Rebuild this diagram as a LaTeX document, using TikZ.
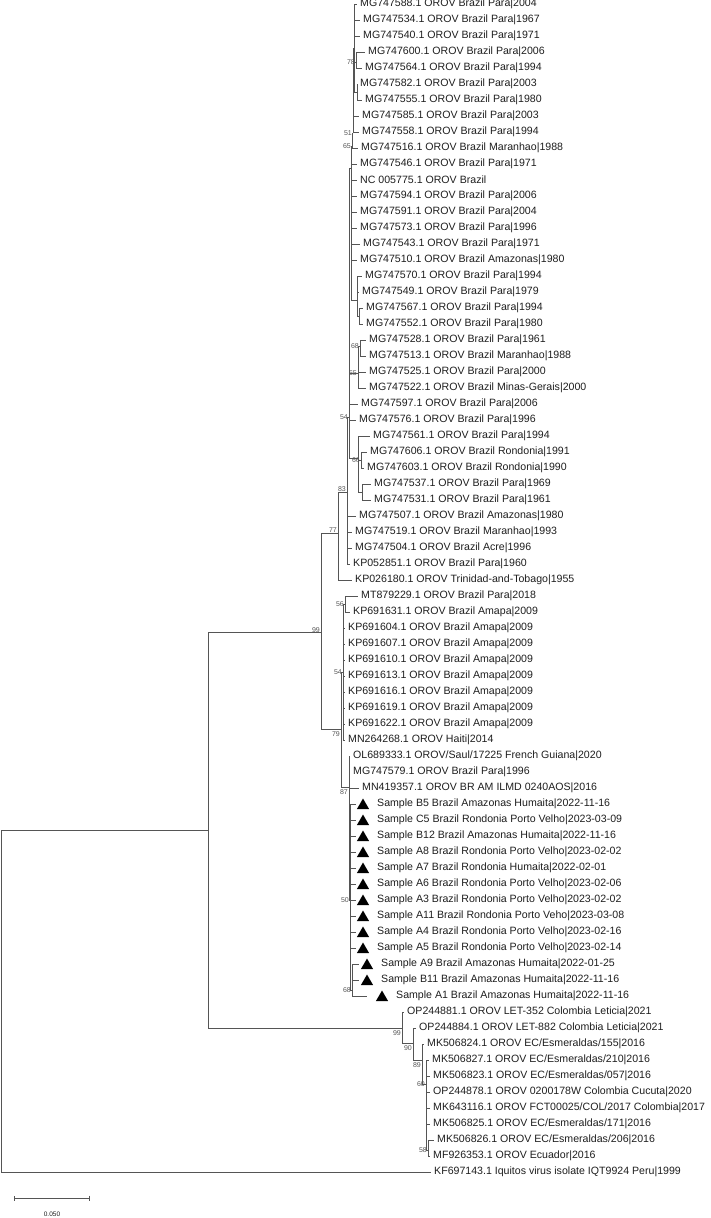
\documentclass[tikz,border=0pt]{standalone}
\usepackage{fontspec}
\setmainfont{Liberation Sans}
\usetikzlibrary{positioning,shapes.geometric,arrows.meta}
\definecolor{BranchGray}{RGB}{85,85,85}
\definecolor{TaxonInk}{RGB}{30,30,30}
\tikzset{
	br/.style={draw=BranchGray,line width=0.8pt},
	leaf/.style={anchor=west,inner xsep=3pt,inner ysep=0pt,text=TaxonInk,
		font=\fontsize{10.6}{11}\selectfont},
	bs/.style={anchor=east,inner sep=1pt,text=BranchGray,font=\fontsize{7}{7}\selectfont},
	bsl/.style={bs,yshift=-5pt},
	tri/.style={regular polygon,regular polygon sides=3,fill=black,inner sep=0pt,minimum size=14pt,yshift=-1.5pt},
}

\begin{document}
\begin{tikzpicture}[x=1pt,y=-1pt]
	\useasboundingbox (0,0) rectangle (710,1218);
	% internal nodes
	\coordinate (root) at (1,1001);
	\coordinate (nO) at (208,830);
	\coordinate (n99a) at (321,632);
	\coordinate (n77) at (338,533);
	\coordinate (n83) at (347,492);
	\coordinate (n54a) at (349,417);
	\coordinate (nA) at (351,168);
	\coordinate (n65a) at (352,146);
	\coordinate (n51) at (353,133);
	\coordinate (nT) at (354,48);
	\coordinate (n78) at (356,62);
	\coordinate (nP) at (357,92);
	\coordinate (nB) at (357,300);
	\coordinate (nC) at (359,316);
	\coordinate (n65b) at (358,373);
	\coordinate (n68a) at (360,346);
	\coordinate (nR) at (358,458);
	\coordinate (n66) at (361,460);
	\coordinate (nS) at (362,492);
	\coordinate (n79) at (341,729);
	\coordinate (n54b) at (343,672);
	\coordinate (n56) at (345,604);
	\coordinate (n87) at (349,787);
	\coordinate (n50) at (350,900);
	\coordinate (n68b) at (352,990);
	\coordinate (n99b) at (402,1028);
	\coordinate (n90) at (413,1043);
	\coordinate (n89) at (422,1060);
	\coordinate (n60) at (426,1084);
	\coordinate (n58) at (428,1150);

	% taxa
	\node[leaf] (l0) at (357,4) {MG747588.1 OROV Brazil Para|2004};
	\node[leaf] (l1) at (360,20) {MG747534.1 OROV Brazil Para|1967};
	\node[leaf] (l2) at (360,36) {MG747540.1 OROV Brazil Para|1971};
	\node[leaf] (l3) at (365,52) {MG747600.1 OROV Brazil Para|2006};
	\node[leaf] (l4) at (362,68) {MG747564.1 OROV Brazil Para|1994};
	\node[leaf] (l5) at (357,84) {MG747582.1 OROV Brazil Para|2003};
	\node[leaf] (l6) at (362,100) {MG747555.1 OROV Brazil Para|1980};
	\node[leaf] (l7) at (359,116) {MG747585.1 OROV Brazil Para|2003};
	\node[leaf] (l8) at (359,132) {MG747558.1 OROV Brazil Para|1994};
	\node[leaf] (l9) at (358,148) {MG747516.1 OROV Brazil Maranhao|1988};
	\node[leaf] (l10) at (357,164) {MG747546.1 OROV Brazil Para|1971};
	\node[leaf] (l11) at (357,180) {NC 005775.1 OROV Brazil};
	\node[leaf] (l12) at (357,196) {MG747594.1 OROV Brazil Para|2006};
	\node[leaf] (l13) at (357,212) {MG747591.1 OROV Brazil Para|2004};
	\node[leaf] (l14) at (357,228) {MG747573.1 OROV Brazil Para|1996};
	\node[leaf] (l15) at (360,244) {MG747543.1 OROV Brazil Para|1971};
	\node[leaf] (l16) at (357,260) {MG747510.1 OROV Brazil Amazonas|1980};
	\node[leaf] (l17) at (362,276) {MG747570.1 OROV Brazil Para|1994};
	\node[leaf] (l18) at (359,292) {MG747549.1 OROV Brazil Para|1979};
	\node[leaf] (l19) at (363,308) {MG747567.1 OROV Brazil Para|1994};
	\node[leaf] (l20) at (363,324) {MG747552.1 OROV Brazil Para|1980};
	\node[leaf] (l21) at (366,340) {MG747528.1 OROV Brazil Para|1961};
	\node[leaf] (l22) at (366,356) {MG747513.1 OROV Brazil Maranhao|1988};
	\node[leaf] (l23) at (366,372) {MG747525.1 OROV Brazil Para|2000};
	\node[leaf] (l24) at (366,388) {MG747522.1 OROV Brazil Minas-Gerais|2000};
	\node[leaf] (l25) at (358,404) {MG747597.1 OROV Brazil Para|2006};
	\node[leaf] (l26) at (356,420) {MG747576.1 OROV Brazil Para|1996};
	\node[leaf] (l27) at (370,436) {MG747561.1 OROV Brazil Para|1994};
	\node[leaf] (l28) at (367,452) {MG747606.1 OROV Brazil Rondonia|1991};
	\node[leaf] (l29) at (364,468) {MG747603.1 OROV Brazil Rondonia|1990};
	\node[leaf] (l30) at (371,484) {MG747537.1 OROV Brazil Para|1969};
	\node[leaf] (l31) at (371,500) {MG747531.1 OROV Brazil Para|1961};
	\node[leaf] (l32) at (356,516) {MG747507.1 OROV Brazil Amazonas|1980};
	\node[leaf] (l33) at (352,532) {MG747519.1 OROV Brazil Maranhao|1993};
	\node[leaf] (l34) at (352,548) {MG747504.1 OROV Brazil Acre|1996};
	\node[leaf] (l35) at (350,564) {KP052851.1 OROV Brazil Para|1960};
	\node[leaf] (l36) at (352,580) {KP026180.1 OROV Trinidad-and-Tobago|1955};
	\node[leaf] (l37) at (358,596) {MT879229.1 OROV Brazil Para|2018};
	\node[leaf] (l38) at (350,612) {KP691631.1 OROV Brazil Amapa|2009};
	\node[leaf] (l39) at (345,628) {KP691604.1 OROV Brazil Amapa|2009};
	\node[leaf] (l40) at (345,644) {KP691607.1 OROV Brazil Amapa|2009};
	\node[leaf] (l41) at (345,660) {KP691610.1 OROV Brazil Amapa|2009};
	\node[leaf] (l42) at (345,676) {KP691613.1 OROV Brazil Amapa|2009};
	\node[leaf] (l43) at (345,692) {KP691616.1 OROV Brazil Amapa|2009};
	\node[leaf] (l44) at (345,708) {KP691619.1 OROV Brazil Amapa|2009};
	\node[leaf] (l45) at (345,724) {KP691622.1 OROV Brazil Amapa|2009};
	\node[leaf] (l46) at (345,740) {MN264268.1 OROV Haiti|2014};
	\node[leaf] (l47) at (350,756) {OL689333.1 OROV/Saul/17225 French Guiana|2020};
	\node[leaf] (l48) at (350,772) {MG747579.1 OROV Brazil Para|1996};
	\node[leaf] (l49) at (359,788) {MN419357.1 OROV BR AM ILMD 0240AOS|2016};

	% sequenced samples
	\foreach \i/\tip/\mk/\txt in {
		50/356/363/{Sample B5 Brazil Amazonas Humaita|2022-11-16},
		51/356/363/{Sample C5 Brazil Rondonia Porto Velho|2023-03-09},
		52/356/363/{Sample B12 Brazil Amazonas Humaita|2022-11-16},
		53/356/363/{Sample A8 Brazil Rondonia Porto Velho|2023-02-02},
		54/356/363/{Sample A7 Brazil Rondonia Humaita|2022-02-01},
		55/356/363/{Sample A6 Brazil Rondonia Porto Velho|2023-02-06},
		56/356/363/{Sample A3 Brazil Rondonia Porto Velho|2023-02-02},
		57/356/363/{Sample A11 Brazil Rondonia Porto Veho|2023-03-08},
		58/356/363/{Sample A4 Brazil Rondonia Porto Velho|2023-02-16},
		59/356/363/{Sample A5 Brazil Rondonia Porto Velho|2023-02-14},
		60/359/367/{Sample A9 Brazil Amazonas Humaita|2022-01-25},
		61/359/367/{Sample B11 Brazil Amazonas Humaita|2022-11-16},
		62/367/382/{Sample A1 Brazil Amazonas Humaita|2022-11-16}} {
		\coordinate (l\i) at (\tip,{4+16*\i});
		\node[tri] (s\i) at (\mk,{4+16*\i}) {};
		\node[leaf] (t\i) at ({\mk+11},{4+16*\i}) {\txt};
	}

	\node[leaf] (l63) at (404,1012) {OP244881.1 OROV LET-352 Colombia Leticia|2021};
	\node[leaf] (l64) at (416,1028) {OP244884.1 OROV LET-882 Colombia Leticia|2021};
	\node[leaf] (l65) at (424,1044) {MK506824.1 OROV EC/Esmeraldas/155|2016};
	\node[leaf] (l66) at (429,1060) {MK506827.1 OROV EC/Esmeraldas/210|2016};
	\node[leaf] (l67) at (430,1076) {MK506823.1 OROV EC/Esmeraldas/057|2016};
	\node[leaf] (l68) at (430,1092) {OP244878.1 OROV 0200178W Colombia Cucuta|2020};
	\node[leaf] (l69) at (430,1108) {MK643116.1 OROV FCT00025/COL/2017 Colombia|2017};
	\node[leaf] (l70) at (430,1124) {MK506825.1 OROV EC/Esmeraldas/171|2016};
	\node[leaf] (l71) at (434,1140) {MK506826.1 OROV EC/Esmeraldas/206|2016};
	\node[leaf] (l72) at (430,1156) {MF926353.1 OROV Ecuador|2016};
	\node[leaf] (l73) at (431,1172) {KF697143.1 Iquitos virus isolate IQT9924 Peru|1999};

	% branches
	\foreach \c in {nO,l73} \draw[br] (root) |- (\c);
	\foreach \c in {n99a,n99b} \draw[br] (nO) |- (\c);
	\foreach \c in {n77,n79} \draw[br] (n99a) |- (\c);
	\foreach \c in {n83,l36} \draw[br] (n77) |- (\c);
	\foreach \c in {n54a,l32,l33,l34,l35} \draw[br] (n83) |- (\c);
	\foreach \c in {nA,n65b,l25,l26,nR} \draw[br] (n54a) |- (\c);
	\foreach \c in {n65a,l10,l11,l12,l13,l14,l15,l16,nB} \draw[br] (nA) |- (\c);
	\foreach \c in {n51,l9} \draw[br] (n65a) |- (\c);
	\foreach \c in {nT,l7,l8} \draw[br] (n51) |- (\c);
	\foreach \c in {l0,l1,l2,n78,nP} \draw[br] (nT) |- (\c);
	\foreach \c in {l3,l4} \draw[br] (n78) |- (\c);
	\foreach \c in {l5,l6} \draw[br] (nP) |- (\c);
	\foreach \c in {l17,l18,nC} \draw[br] (nB) |- (\c);
	\foreach \c in {l19,l20} \draw[br] (nC) |- (\c);
	\foreach \c in {n68a,l23,l24} \draw[br] (n65b) |- (\c);
	\foreach \c in {l21,l22} \draw[br] (n68a) |- (\c);
	\foreach \c in {l27,n66,nS} \draw[br] (nR) |- (\c);
	\foreach \c in {l28,l29} \draw[br] (n66) |- (\c);
	\foreach \c in {l30,l31} \draw[br] (nS) |- (\c);
	\foreach \c in {n54b,n87} \draw[br] (n79) |- (\c);
	\foreach \c in {n56,l39,l40,l41,l42,l43,l44,l45,l46} \draw[br] (n54b) |- (\c);
	\foreach \c in {l37,l38} \draw[br] (n56) |- (\c);
	\foreach \c in {l47,l48,l49,n50} \draw[br] (n87) |- (\c);
	\foreach \c in {l50,l51,l52,l53,l54,l55,l56,l57,l58,l59,n68b} \draw[br] (n50) |- (\c);
	\foreach \c in {l60,l61,l62} \draw[br] (n68b) |- (\c);
	\foreach \c in {l63,n90} \draw[br] (n99b) |- (\c);
	\foreach \c in {l64,n89} \draw[br] (n90) |- (\c);
	\foreach \c in {l65,n60} \draw[br] (n89) |- (\c);
	\foreach \c in {l66,l67,l68,l69,l70,n58} \draw[br] (n60) |- (\c);
	\foreach \c in {l71,l72} \draw[br] (n58) |- (\c);

	% bootstrap values
	\node[bs] (b78) at (n78) {78};
	\node[bs] (b51) at (n51) {51};
	\node[bs] (b65a) at (n65a) {65};
	\node[bs] (b68a) at (n68a) {68};
	\node[bs] (b65b) at (n65b) {65};
	\node[bs] (b54a) at (n54a) {54};
	\node[bs] (b66) at (n66) {66};
	\node[bs,yshift=3pt] (b83) at (n83) {83};
	\node[bs,yshift=3pt] (b77) at (n77) {77};
	\node[bs,yshift=2pt] (b99a) at (n99a) {99};
	\node[bs] (b56) at (n56) {56};
	\node[bs] (b54b) at (n54b) {54};
	\node[bsl] (b79) at (n79) {79};
	\node[bsl] (b87) at (n87) {87};
	\node[bs] (b50) at (n50) {50};
	\node[bs] (b68b) at (n68b) {68};
	\node[bsl] (b99b) at (n99b) {99};
	\node[bsl] (b90) at (n90) {90};
	\node[bsl] (b89) at (n89) {89};
	\node[bs] (b60) at (n60) {60};
	\node[bs] (b58) at (n58) {58};

	% scale bar
	\coordinate (sbL) at (14,1198);
	\coordinate (sbR) at (90,1198);
	\draw[br,{Bar[width=5pt]}-{Bar[width=5pt]}] (sbL) -- (sbR);
	\node[font=\fontsize{6.5}{7}\selectfont,text=TaxonInk] (sbT) at (52,1214) {0.050};
\end{tikzpicture}
\end{document}
